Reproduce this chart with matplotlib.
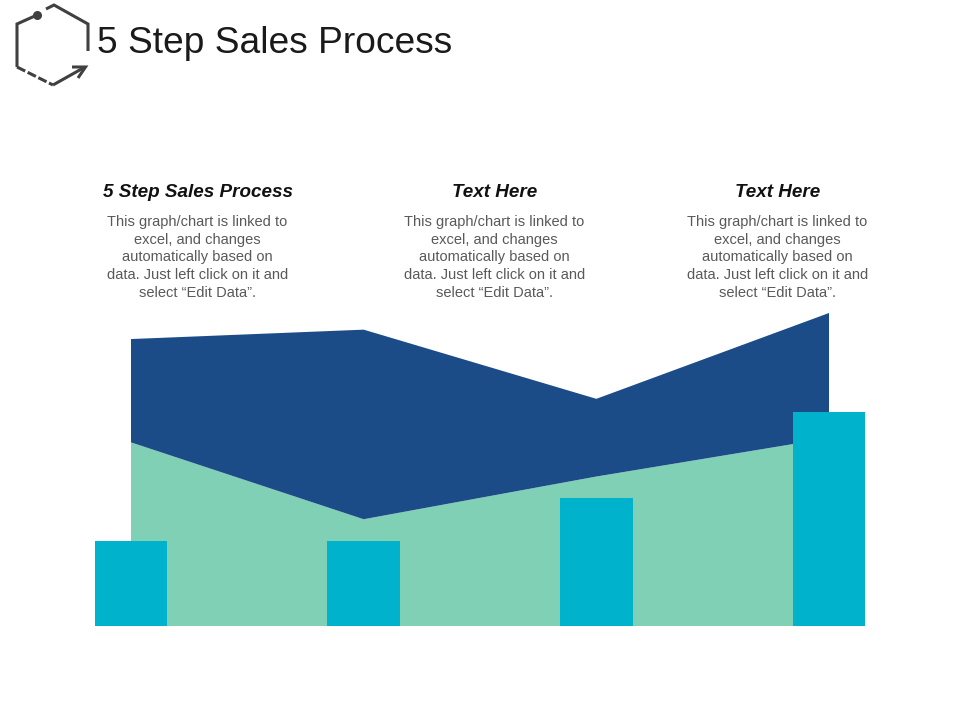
import matplotlib
matplotlib.use("Agg")
import matplotlib.pyplot as plt
import numpy as np

W, H = 960, 720
categories = ["A", "B", "C", "D"]
bar_values = [20, 20, 30, 50]
green_values = [43, 25, 35, 44]
blue_values = [24.2, 44.4, 18.2, 29.3]

title = "5 Step Sales Process"
headings = ["5 Step Sales Process", "Text Here", "Text Here"]
body_lines = ["This graph/chart is linked to", "excel, and changes",
              "automatically based on", "data. Just left click on it and",
              "select \u201cEdit Data\u201d."]
heading_x = [198, 495, 778]
body_x = [197.5, 494.5, 777.5]

plt.rcParams["font.family"] = ["Liberation Sans", "DejaVu Sans"]
fig = plt.figure(figsize=(W / 100, H / 100), dpi=100, facecolor="white")

# main chart
ax = fig.add_axes([95 / W, 1 - 626 / H, 770 / W, 313 / H])
x = np.arange(len(categories))
ax.stackplot(x, green_values, blue_values, colors=["#7FD0B5", "#1C4C87"], linewidth=0)
ax.bar(x, bar_values, width=0.3116, color="#00B2CC", linewidth=0, zorder=3)
ax.set_xlim(-0.1547, 3.1547)
ax.set_ylim(0, 73.3)
ax.axis("off")

# overlay in pixel coordinates
ov = fig.add_axes([0, 0, 1, 1], zorder=5)
ov.set_xlim(0, W)
ov.set_ylim(H, 0)
ov.axis("off")
c = "#404040"
lw = 2.2
kw = dict(color=c, lw=lw, solid_capstyle="butt", solid_joinstyle="miter")
ov.plot([37, 17, 17], [15, 24, 67], **kw)
ov.plot([46, 54, 88, 88], [9, 5, 24, 51], **kw)
ov.plot([17, 53], [67, 85], color=c, lw=lw, dashes=(3.0, 0.9))
ov.plot([53, 85], [85, 67], **kw)
ov.plot([72, 85.5, 78], [67, 67, 78], **kw)
ov.plot([37], [15], "o", color=c, ms=6.5, mew=0)

ov.text(97, 53, title, fontsize=26.7, color="#1a1a1a", ha="left", va="baseline")
for hx, bx, h in zip(heading_x, body_x, headings):
    ov.text(hx, 197, h, fontsize=13.6, style="italic", weight="bold", color="#111111",
            ha="center", va="baseline")
    for i, line in enumerate(body_lines):
        ov.text(bx, 226 + i * 17.75, line, fontsize=10.5, color="#595959",
                ha="center", va="baseline")

fig.savefig("out.png", dpi=100, facecolor="white")
